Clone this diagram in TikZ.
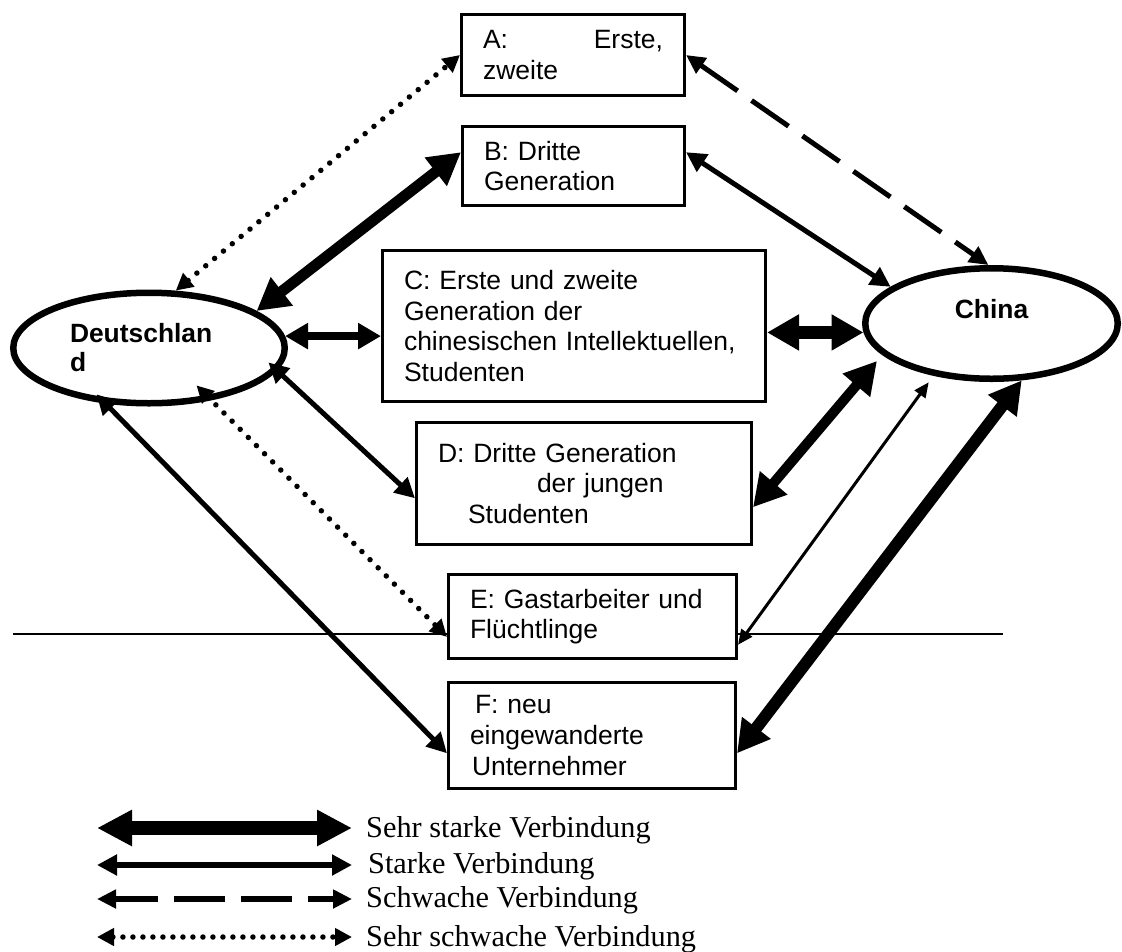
\documentclass[tikz,border=0pt]{standalone}
\usepackage{fontspec}
\usetikzlibrary{arrows.meta,shapes.geometric}
\newfontfamily\arialfont{Liberation Sans}
\newfontfamily\timesfont{Liberation Serif}
\newcommand\boxfont{\arialfont\fontsize{26.5}{30.7}\selectfont}
\newcommand\landfont{\arialfont\bfseries\fontsize{26.4}{29}\selectfont}
\newcommand\keyfont{\timesfont\fontsize{30.3}{34}\selectfont}

\begin{document}
\begin{tikzpicture}[x=1pt,y=-1pt,
  group/.style={draw, line width=3pt, fill=white, align=left,
    inner xsep=21.5pt, inner ysep=0pt, font=\boxfont},
  land/.style={ellipse, draw, line width=6.5pt, fill=white,
    inner sep=0pt, font=\landfont},
  vstrong/.style={line width=12pt, >={Triangle[length=32pt,width=34pt]}, <->},
  mid/.style={line width=8.5pt, >={Triangle[length=23pt,width=25pt]}, <->},
  strong/.style={line width=5pt, >={Triangle[length=20pt,width=20pt]}, <->},
  slim/.style={line width=3pt, >={Triangle[length=15pt,width=13pt]}, <->},
  weak/.style={line width=5pt, dash pattern=on 45pt off 17pt,
    >={Triangle[length=19pt,width=18pt]}, <->},
  vweak/.style={line width=5.5pt, line cap=round, dash pattern=on 0pt off 11.5pt,
    >={Triangle[length=17pt,width=17pt]}, <->},
  keytext/.style={anchor=base west, inner sep=0pt, font=\keyfont}
]
\useasboundingbox (0,0) rectangle (1122,951);

% separating rule (hidden behind box E)
\draw[line width=1.3pt] (13,634) -- (1003,634);

% the two countries
\node[land, minimum width=271.5pt, minimum height=110.5pt,
      text width=158pt, align=left] (deu) at (149,348) {Deutschlan\\d};
\node[land, minimum width=252.5pt, minimum height=110.5pt,
      text depth=30pt] (chn) at (991.5,323.5) {China};

% groups
\node[group, text width=180pt, minimum height=81pt] (ga) at (573,55)
  {A:\hskip0pt plus1fill Erste,\\zweite};
\node[group, text width=179pt, minimum height=79pt] (gb) at (573.5,166)
  {B: Dritte\\Generation};
\node[group, text width=340pt, minimum height=151pt] (gc) at (574,326)
  {C: Erste und zweite\\Generation der\\chinesischen Intellektuellen,\\Studenten};
\node[group, text width=292pt, minimum height=122pt] (gd) at (584,483.5)
  {D: Dritte Generation\\\hspace*{99pt}der jungen\\\hspace*{30pt}Studenten};
\node[group, text width=245pt, minimum height=84pt] (ge) at (592.5,616.5)
  {E: Gastarbeiter und\\Flüchtlinge};
\node[group, text width=244pt, minimum height=106pt] (gf) at (592,735.5)
  {\hspace*{5pt}F: neu\\eingewanderte\\\hspace*{2pt}Unternehmer};

% links to Deutschland
\draw[vweak] (deu.65) -- (ga.west);
\draw[vstrong, line width=11pt] (deu.19) -- (gb.173);
\draw[mid] (deu.5) -- (deu.5 -| gc.west);
\draw[strong, shorten <=-12pt] (deu.-10) -- (gd.185);
\draw[vweak, shorten <=-21pt] (deu.-40) -- (ge.188);
\draw[strong, shorten <=-13pt] (deu.-128) -- (gf.187);

% links to China
\draw[weak] (ga.east) -- (chn.93);
\draw[strong] (gb.7) -- (chn.160);
\draw[vstrong, line width=13pt] (gc.east |- chn.184) -- (chn.184);
\draw[vstrong, line width=10pt, shorten >=8pt] (gd.-8) -- (chn.196);
\draw[slim, shorten >=8pt] (ge.-11) -- (chn.222);
\draw[vstrong] (gf.-7) -- (chn.-62.5);

% key
\coordinate (k1a) at (97,828); \coordinate (k1b) at (352,828);
\draw[vstrong, line width=14pt, >={Triangle[length=35pt,width=34pt]}] (k1a) -- (k1b);
\node[keytext] (k1) at (366,837) {Sehr starke Verbindung};

\coordinate (k2a) at (97,865); \coordinate (k2b) at (352,865);
\draw[strong, line width=6pt] (k2a) -- (k2b);
\node[keytext] (k2) at (368,873) {Starke Verbindung};

\coordinate (k3a) at (97,899); \coordinate (k3b) at (352,899);
\draw[weak, line width=5.5pt, dash pattern=on 51pt off 16pt, dash phase=8pt] (k3a) -- (k3b);
\node[keytext] (k3) at (366,907) {Schwache Verbindung};

\coordinate (k4a) at (97,937); \coordinate (k4b) at (352,937);
\draw[vweak, dash pattern=on 0pt off 10pt] (k4a) -- (k4b);
\node[keytext] (k4) at (366,946) {Sehr schwache Verbindung};
\end{tikzpicture}
\end{document}
